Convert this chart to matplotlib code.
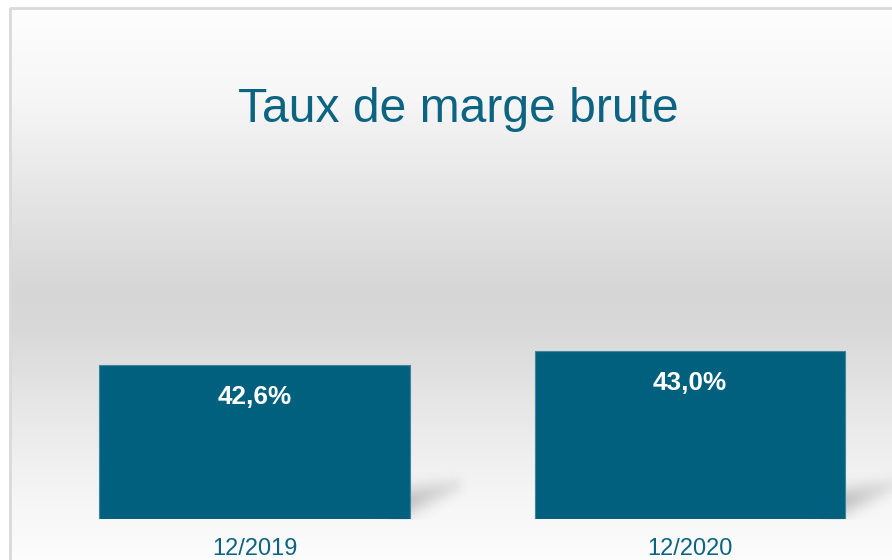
import matplotlib
matplotlib.use("Agg")
import matplotlib.pyplot as plt
import numpy as np

# data
periods = ["12/2019", "12/2020"]
taux = [42.6, 43.0]
labels = ["42,6%", "43,0%"]
title = "Taux de marge brute"

teal = "#00607d"
text_teal = "#0c6482"

plt.rcParams['font.family'] = ['Liberation Sans', 'DejaVu Sans']

W, H = 892, 560
fig = plt.figure(figsize=(W / 100, H / 100), dpi=100)

# background: vertical grey gradient inside a thin frame
bg = fig.add_axes([0, 0, 1, 1])
bg.set_xlim(0, W)
bg.set_ylim(H, 0)
bg.axis("off")
rows = np.arange(H)
stops_y = [8, 100, 200, 290, 330, 420, 500, 560]
stops_v = [0.995, 0.965, 0.895, 0.84, 0.85, 0.915, 0.965, 0.99]
grad = np.interp(rows, stops_y, stops_v)
img = np.repeat(grad[:, None], W, axis=1)
img[:8, :] = 1.0
img[:, :10] = 1.0
bg.imshow(np.dstack([img] * 3), extent=(0, W, H, 0), aspect="auto", zorder=0)
bg.plot([10, 10, W], [H, 8, 8], color="#d9d9d9", lw=2, zorder=1)

# soft shadow next to the bottom-right of each bar (pixel space)
bar_w = 0.714
px_per_cat = 435.5
x0 = 254.5
yy, xx = np.mgrid[0:H, 0:W]
shadow = np.zeros((H, W))
for i in range(len(taux)):
    right = x0 + i * px_per_cat + bar_w * px_per_cat / 2
    ax_, ay_ = right - 10, 503.0
    bx_, by_ = right + 42, 486.0
    dx, dy = bx_ - ax_, by_ - ay_
    t = np.clip(((xx - ax_) * dx + (yy - ay_) * dy) / (dx * dx + dy * dy), 0, 1)
    d = np.hypot(xx - (ax_ + t * dx), yy - (ay_ + t * dy))
    a = 0.22 * np.exp(-(d / (15 - 5 * t)) ** 2) * (1 - 0.7 * t)
    a[yy > 519] = 0
    shadow = np.maximum(shadow, a)
rgba = np.zeros((H, W, 4))
rgba[..., 3] = shadow
bg.imshow(rgba, extent=(0, W, H, 0), aspect="auto", zorder=2)

fig.text(458 / W, 1 - 122 / H, title, ha="center", va="baseline",
         fontsize=34.6, color=text_teal)

# bar axes: bottom at y=519 px, top at 150 px
ax = fig.add_axes([0, (H - 519) / H, 1, (519 - 150) / H])
ax.patch.set_alpha(0)
ax.set_xlim(-x0 / px_per_cat, 1 + (W - x0 - px_per_cat) / px_per_cat)
ax.set_ylim(38, 49)
ax.axis("off")

xs = np.arange(len(periods))
ax.bar(xs, [v - 38 for v in taux], bottom=38, width=bar_w, color=teal,
       edgecolor="#3f85a0", linewidth=0.8, zorder=3)

for x, v, lab, per in zip(xs, taux, labels, periods):
    ax.annotate(lab, xy=(x, v), xytext=(0, -28), textcoords="offset points",
                ha="center", va="baseline", fontsize=18.8, fontweight="bold",
                color="white", zorder=4)
    ax.annotate(per, xy=(x, 38), xytext=(0, -26), textcoords="offset points",
                ha="center", va="baseline", fontsize=17, color=text_teal,
                annotation_clip=False)

fig.savefig("out.png", dpi=100)
